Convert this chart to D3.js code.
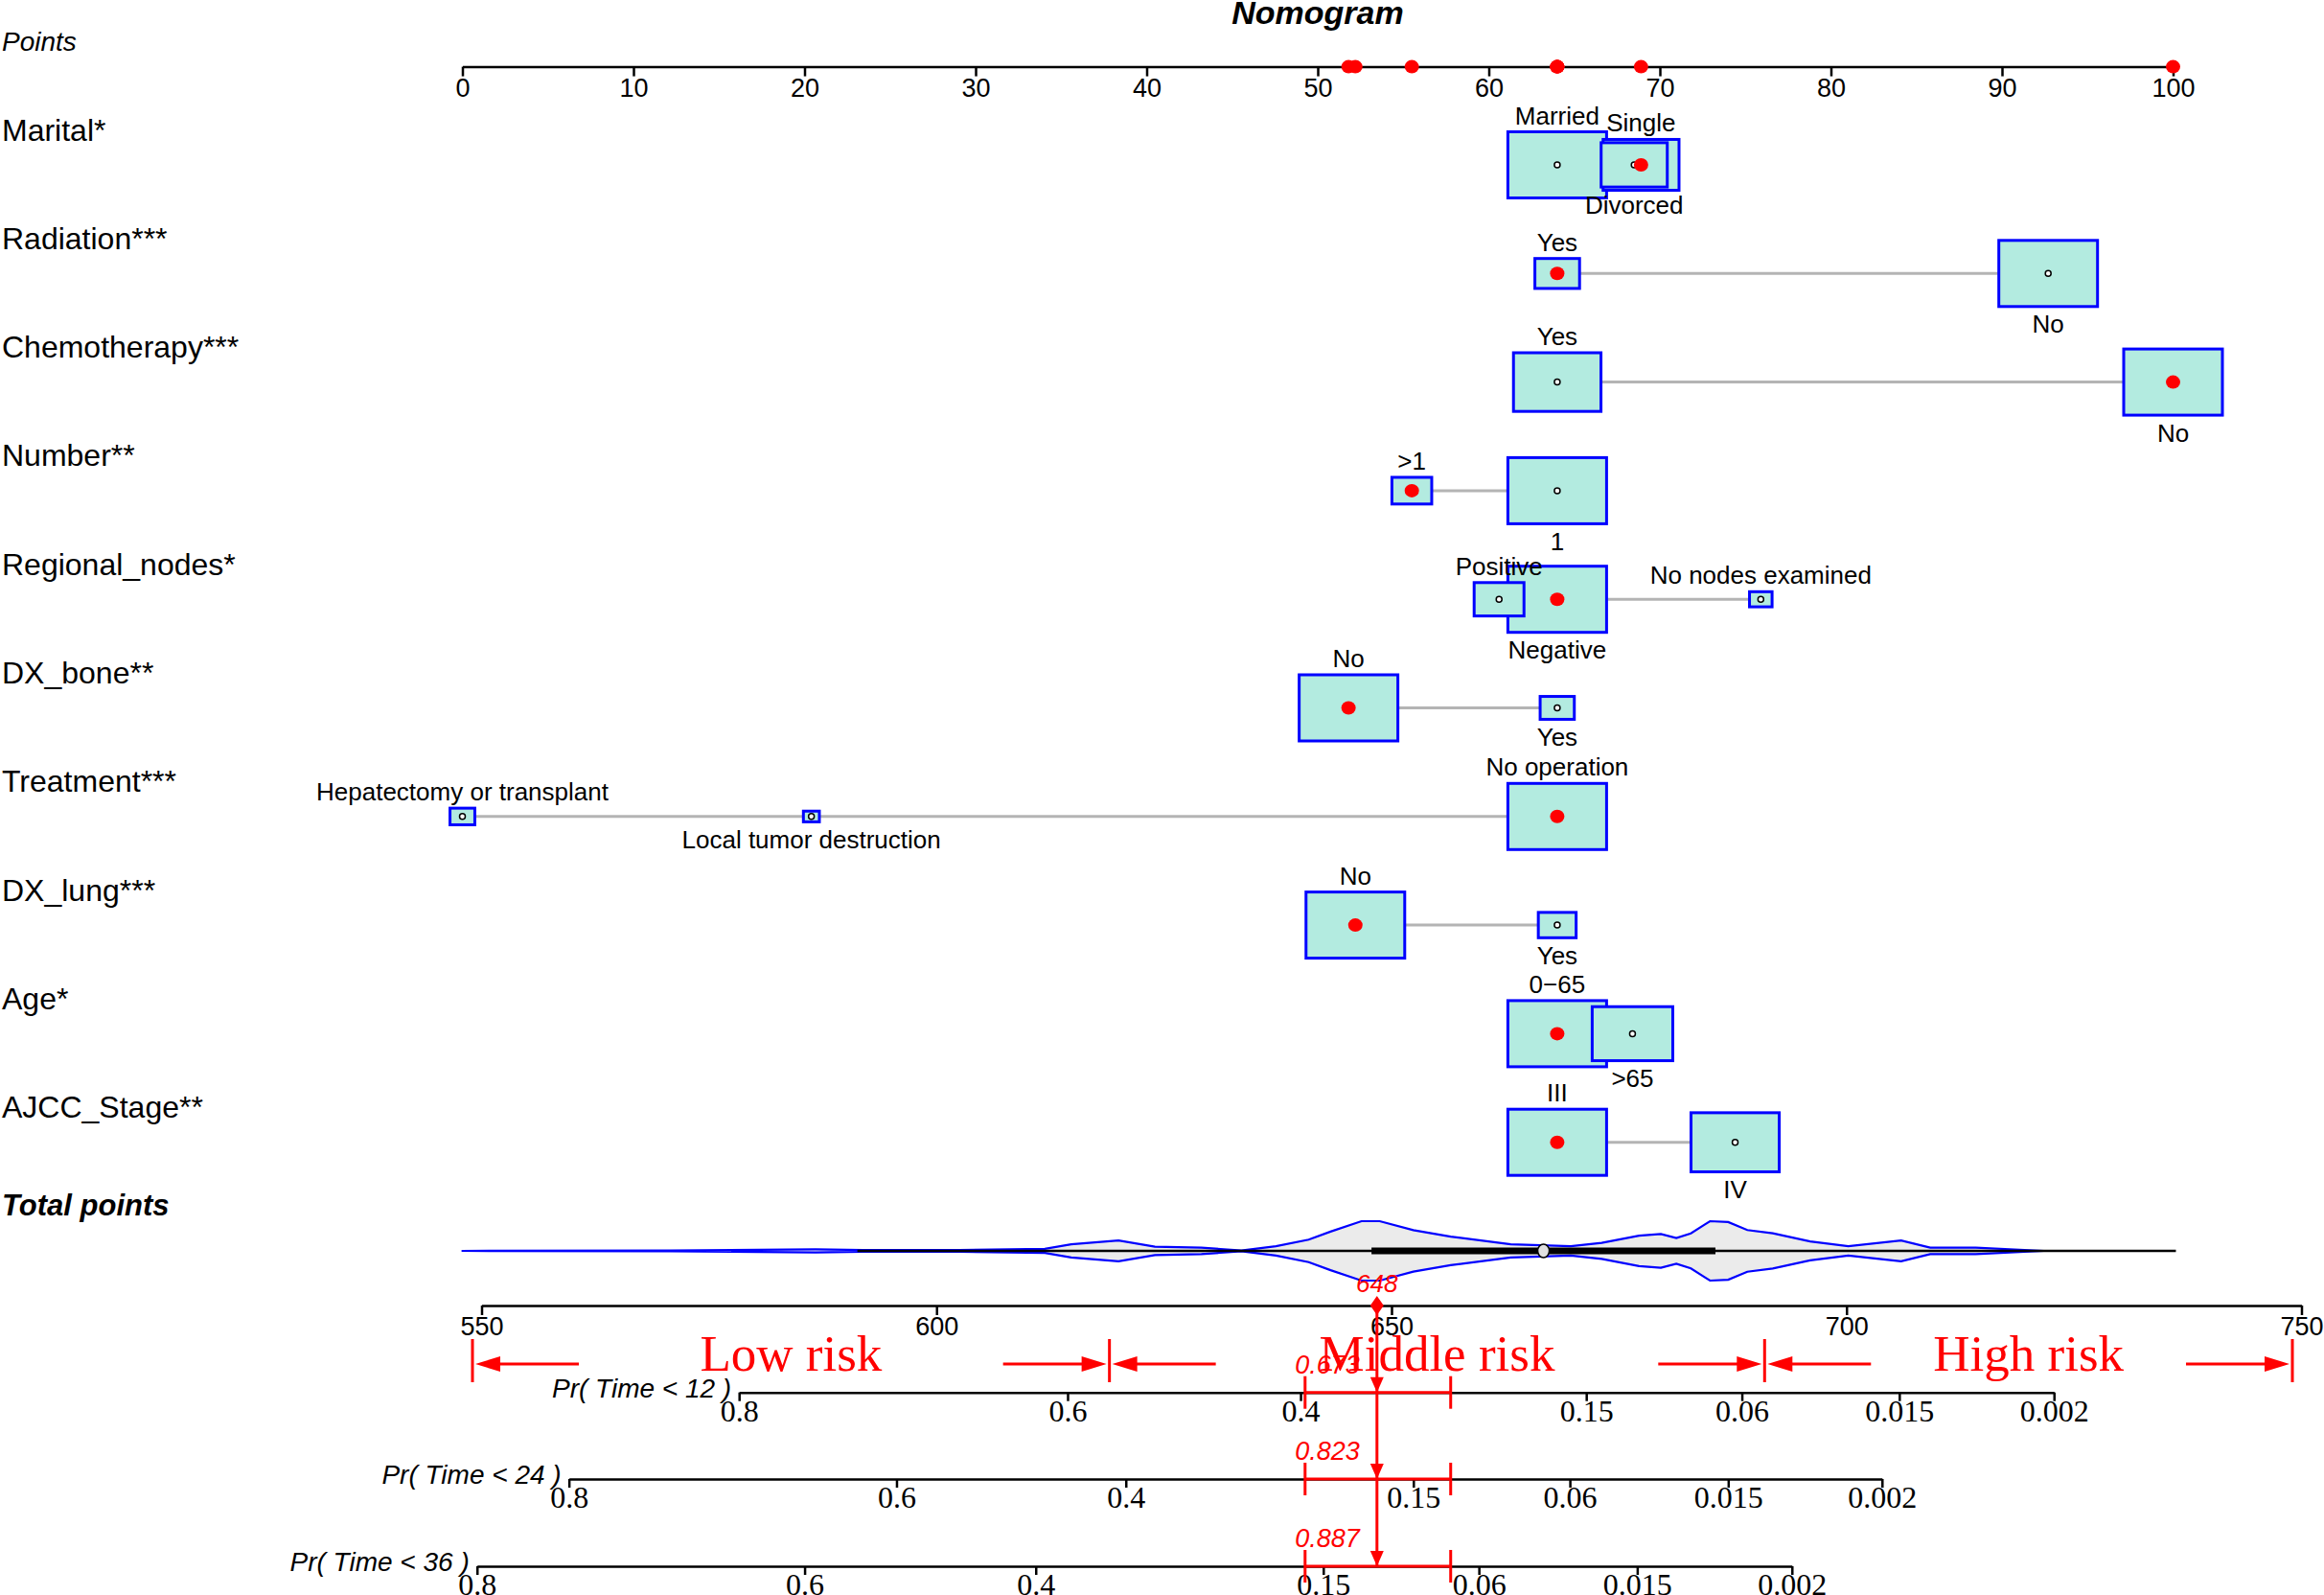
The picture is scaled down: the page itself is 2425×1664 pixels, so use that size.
<!DOCTYPE html>
<html lang="en">
<head>
<meta charset="UTF-8">
<title>Nomogram</title>
<script src="https://d3js.org/d3.v7.min.js"></script>
<style>
    body { margin: 0; background: #fff; }
    svg { display: block; background: #fff; }
    .sans { font-family: "Liberation Sans", Arial, sans-serif; }
    .serif { font-family: "Liberation Serif", "Times New Roman", serif; }
    .axis path, .axis line { stroke: #000; stroke-width: 2.5px; }
    .axis text { fill: #000; }
    .lvl-box { fill: #b3ebe0; stroke: #0000ff; stroke-width: 3px; }
    .link { stroke: #b4b4b4; stroke-width: 3px; }
    .obs { fill: #ff0000; stroke: none; }
    .red-line { stroke: #ff0000; stroke-width: 3px; fill: none; }
</style>
</head>
<body>
<svg id="chart" width="2425" height="1664"></svg>
<script>
// ---- data ----
const variables = ["Marital*", "Radiation***", "Chemotherapy***", "Number**", "Regional_nodes*",
                   "DX_bone**", "Treatment***", "DX_lung***", "Age*", "AJCC_Stage**"];

const levelNames = [
    ["Married", "Divorced", "Single"],
    ["Yes", "No"],
    ["Yes", "No"],
    [">1", "1"],
    ["Positive", "Negative", "No nodes examined"],
    ["No", "Yes"],
    ["No operation", "Local tumor destruction", "Hepatectomy or transplant"],
    ["No", "Yes"],
    ["0\u221265", ">65"],
    ["III", "IV"]
];

// points of every level
const levelPoints = [
    [64.0, 68.5, 68.9],
    [64.0, 92.7],
    [64.0, 100],
    [55.5, 64.0],
    [60.6, 64.0, 75.9],
    [51.8, 64.0],
    [64.0, 20.4, 0],
    [52.2, 64.0],
    [64.0, 68.4],
    [64.0, 74.4]
];

// share of patients in every level (box size)
const levelFreq = [
    [0.49, 0.22, 0.29],
    [0.17, 0.83],
    [0.44, 0.56],
    [0.14, 0.86],
    [0.195, 0.765, 0.04],
    [0.893, 0.107],
    [0.918, 0.024, 0.058],
    [0.872, 0.128],
    [0.60, 0.40],
    [0.556, 0.444]
];

// level of the patient shown in red
const observedLevel = [2, 0, 1, 0, 1, 0, 0, 0, 0, 0];

const pointTicks = [0, 10, 20, 30, 40, 50, 60, 70, 80, 90, 100];
const totalTicks = [550, 600, 650, 700, 750];

// distribution of total points (violin)
const violinTotal = [547.8, 570.8, 586.7, 591.9, 602.5, 611.9, 614.8, 620.0, 624.0, 629.1, 633.5,
                     637.3, 640.9, 643.3, 646.7, 648.7, 652.4, 656.5, 663.1, 669.7, 673.1, 677.2,
                     679.6, 681.3, 682.9, 685.0, 687.0, 689.1, 691.9, 696.0, 700.2, 706.0, 709.2,
                     714.2, 721.7];
const violinDensity = [0, 0.01, 0.05, 0.03, 0.03, 0.07, 0.22, 0.35, 0.14, 0.11, 0.01,
                       0.16, 0.38, 0.65, 1.0, 1.0, 0.70, 0.48, 0.22, 0.16, 0.27, 0.51,
                       0.57, 0.43, 0.59, 1.0, 0.97, 0.70, 0.59, 0.32, 0.16, 0.35, 0.11,
                       0.11, 0];
// whisker low, q1, median, q3, whisker high
const totalSummary = [591.3, 647.8, 666.7, 685.6, 736.2];

const riskCuts = [549, 619, 691, 749];
const riskNames = ["Low risk", "Middle risk", "High risk"];

const survLabels = ["Pr( Time < 12 )", "Pr( Time < 24 )", "Pr( Time < 36 )"];
const survTickLabels = ["0.8", "0.6", "0.4", "0.15", "0.06", "0.015", "0.002"];
const survTickTotal = [
    [578.3, 614.4, 640.0, 671.4, 688.5, 705.8, 722.8],
    [559.6, 595.6, 620.8, 652.4, 669.6, 687.0, 703.9],
    [549.5, 585.5, 610.9, 642.5, 659.6, 677.0, 694.0]
];
const survPredicted = ["0.673", "0.823", "0.887"];
const predictedCI = [640.5, 656.5];

// ---- layout ----
const svg = d3.select('#chart');
const x = d3.scaleLinear().domain([0, 100]).range([482.5, 2267.5]);
const xt = d3.scaleLinear().domain([550, 750]).range([502.5, 2401.5]);
const rowY = d3.scalePoint().domain(variables).range([172, 172 + 9 * 113.3]);

const pointsAxisY = 69.6;
const violinY = 1305;
const totalAxisY = 1362;
const riskY = 1420;
const survAxisY = [1452.7, 1543, 1634];
const boxW = 103, boxH = 69;

function label(g, cls, tx, ty, txt, size) {
    return g.append('text').attr('class', cls)
        .attr('x', tx).attr('y', ty)
        .style('font-size', size + 'px')
        .text(txt);
}

// title & points axis
label(svg, 'sans', 1375, 25, 'Nomogram', 34)
    .attr('text-anchor', 'middle')
    .style('font-weight', 'bold').style('font-style', 'italic');
label(svg, 'sans', 2, 53, 'Points', 28).style('font-style', 'italic');

const ptsAxis = svg.append('g')
    .attr('class', 'axis sans')
    .attr('transform', `translate(0,${pointsAxisY})`)
    .call(d3.axisBottom(x).tickValues(pointTicks).tickSize(10).tickSizeOuter(0).tickPadding(2));
ptsAxis.selectAll('text').style('font-size', '27px');

svg.append('g').selectAll('ellipse')
    .data(variables.map((v, i) => levelPoints[i][observedLevel[i]]))
    .enter().append('ellipse')
    .attr('class', 'obs')
    .attr('cx', d => x(d)).attr('cy', pointsAxisY)
    .attr('rx', 7.5).attr('ry', 7);

// variable rows
variables.forEach((v, i) => {
    const cy = rowY(v);
    const g = svg.append('g').attr('class', 'row');
    const pts = levelPoints[i];
    const fmax = d3.max(levelFreq[i]);
    const levels = levelNames[i].map((name, j) => {
        const s = Math.sqrt(levelFreq[i][j] / fmax);
        return { name, j, p: pts[j], w: boxW * s, h: boxH * s };
    });

    label(g, 'sans', 2, cy - 25.5, v, 32);

    g.append('line').attr('class', 'link')
        .attr('x1', x(d3.min(pts))).attr('x2', x(d3.max(pts)))
        .attr('y1', cy).attr('y2', cy);

    const drawOrder = levels.slice().sort((a, b) => b.w - a.w);
    g.selectAll('rect').data(drawOrder).enter().append('rect')
        .attr('class', 'lvl-box')
        .attr('x', d => x(d.p) - d.w / 2).attr('y', d => cy - d.h / 2)
        .attr('width', d => d.w).attr('height', d => d.h);

    g.selectAll('circle').data(levels).enter().append('circle')
        .attr('cx', d => x(d.p)).attr('cy', cy).attr('r', 3)
        .attr('fill', '#fff').attr('stroke', '#000').attr('stroke-width', 1.5);

    g.selectAll('text.lvl').data(levels).enter().append('text')
        .attr('class', 'sans lvl')
        .attr('x', d => x(d.p))
        .attr('y', d => d.j % 2 === 0 ? cy - d.h / 2 - 17.5 + 9.5 : cy + d.h / 2 + 18 + 9.5)
        .attr('text-anchor', 'middle')
        .style('font-size', '26px')
        .text(d => d.name);

    const o = levels[observedLevel[i]];
    g.append('ellipse').attr('class', 'obs')
        .attr('cx', x(o.p)).attr('cy', cy).attr('rx', 7.5).attr('ry', 7);
});

// total points: violin
label(svg, 'sans', 2, 1268, 'Total points', 31)
    .style('font-weight', 'bold').style('font-style', 'italic');

const violin = d3.area()
    .x(d => xt(d[0]))
    .y0(d => violinY + d[1] * 31)
    .y1(d => violinY - d[1] * 31);
svg.append('path')
    .datum(violinTotal.map((t, k) => [t, violinDensity[k]]))
    .attr('d', violin)
    .attr('fill', '#ebebeb').attr('stroke', '#0000ff').attr('stroke-width', 2.2);

svg.append('line')
    .attr('x1', xt(totalSummary[0])).attr('x2', xt(totalSummary[4]))
    .attr('y1', violinY).attr('y2', violinY)
    .attr('stroke', '#000').attr('stroke-width', 2.5);
svg.append('line')
    .attr('x1', xt(totalSummary[1])).attr('x2', xt(totalSummary[3]))
    .attr('y1', violinY).attr('y2', violinY)
    .attr('stroke', '#000').attr('stroke-width', 7);
svg.append('ellipse')
    .attr('cx', xt(totalSummary[2])).attr('cy', violinY).attr('rx', 6).attr('ry', 7)
    .attr('fill', '#e0e0e0').attr('stroke', '#000').attr('stroke-width', 1.5);

const totAxis = svg.append('g')
    .attr('class', 'axis serif')
    .attr('transform', `translate(0,${totalAxisY})`)
    .call(d3.axisBottom(xt).tickValues(totalTicks).tickSize(10).tickSizeOuter(0));
totAxis.selectAll('text').attr('dy', null).attr('y', 31).style('font-size', '27px')
    .attr('class', 'sans');

// risk bands
const red = '#ff0000';
function arrow(g, x0, x1, y) {
    const dir = x1 > x0 ? 1 : -1;
    g.append('line').attr('class', 'red-line').attr('stroke-width', 3.5)
        .attr('x1', x0).attr('x2', x1 - dir * 20).attr('y1', y).attr('y2', y);
    g.append('path').attr('fill', red)
        .attr('d', `M${x1},${y} L${x1 - dir * 26},${y - 8} L${x1 - dir * 26},${y + 8} Z`);
}
const risk = svg.append('g');
riskCuts.forEach(c => {
    risk.append('line').attr('class', 'red-line')
        .attr('x1', xt(c)).attr('x2', xt(c))
        .attr('y1', riskY - 23).attr('y2', riskY + 22);
});
riskNames.forEach((name, k) => {
    const a = xt(riskCuts[k]) + 3, b = xt(riskCuts[k + 1]) - 3;
    arrow(risk, a + 108, a, riskY + 3);
    arrow(risk, b - 108, b, riskY + 3);
    label(risk, 'serif', (a + b) / 2, riskY + 10, name, 53)
        .attr('text-anchor', 'middle').attr('fill', red);
});

// survival probability axes
survLabels.forEach((lab, k) => {
    const ticks = survTickTotal[k];
    const sc = d3.scaleLinear()
        .domain([ticks[0], ticks[ticks.length - 1]])
        .range([xt(ticks[0]), xt(ticks[ticks.length - 1])]);
    const ax = svg.append('g')
        .attr('class', 'axis serif')
        .attr('transform', `translate(0,${survAxisY[k]})`)
        .call(d3.axisBottom(sc).tickValues(ticks).tickSize(9).tickSizeOuter(0)
            .tickFormat((d, n) => survTickLabels[n]));
    ax.selectAll('text').attr('dy', null).attr('y', 30).style('font-size', '32px');
    label(svg, 'sans', xt(ticks[0]) - 8, survAxisY[k] + 5, lab, 28)
        .attr('text-anchor', 'end').style('font-style', 'italic');
});

// the patient: total points and predicted probabilities
const total = d3.sum(variables.map((v, i) => levelPoints[i][observedLevel[i]]));
const xo = xt(total);
const obsG = svg.append('g');
obsG.append('line').attr('class', 'red-line').attr('stroke-width', 2.5)
    .attr('x1', xo).attr('x2', xo).attr('y1', totalAxisY).attr('y2', survAxisY[2]);
obsG.append('path').attr('fill', red)
    .attr('d', `M${xo},${totalAxisY - 10} L${xo + 7},${totalAxisY} L${xo},${totalAxisY + 10} L${xo - 7},${totalAxisY} Z`);
label(obsG, 'sans', xo, totalAxisY - 14, Math.round(total), 26)
    .attr('text-anchor', 'middle').attr('fill', red).style('font-style', 'italic');

survAxisY.forEach((ay, k) => {
    const c0 = xt(predictedCI[0]), c1 = xt(predictedCI[1]);
    obsG.append('line').attr('class', 'red-line')
        .attr('x1', c0).attr('x2', c1).attr('y1', ay).attr('y2', ay);
    [c0, c1].forEach(cx => {
        obsG.append('line').attr('class', 'red-line')
            .attr('x1', cx).attr('x2', cx).attr('y1', ay - 17).attr('y2', ay + 17);
    });
    obsG.append('path').attr('fill', red)
        .attr('d', `M${xo},${ay} L${xo - 7},${ay - 16} L${xo + 7},${ay - 16} Z`);
    label(obsG, 'sans', xo - 18, ay - 20, survPredicted[k], 27)
        .attr('text-anchor', 'end').attr('fill', red).style('font-style', 'italic');
});
</script>
</body>
</html>
